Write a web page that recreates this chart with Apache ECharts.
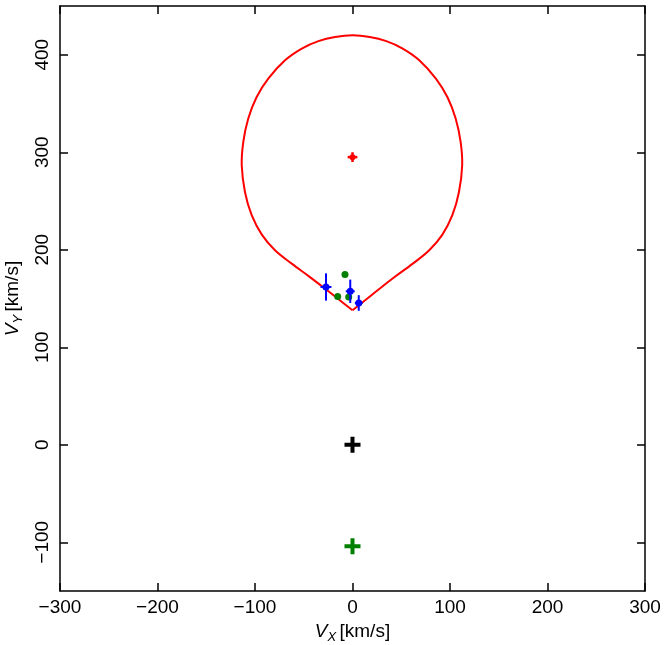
<!DOCTYPE html>
<html>
<head>
<meta charset="utf-8">
<script src="https://cdn.jsdelivr.net/npm/echarts@6/dist/echarts.min.js"></script>
<style>
html,body{margin:0;padding:0;background:#fff;}
#chart{width:665px;height:645px;}
</style>
</head>
<body>
<div id="chart"></div>
<script>
// ---- data ----
const xTicks = [-300, -200, -100, 0, 100, 200, 300];
const yTicks = [-100, 0, 100, 200, 300, 400];

// red boundary curve (Vx, Vy): from the bottom cusp, up the left side, over the top, down the right side
const curveX = [0, -14, -28, -45, -62, -79.5, -93, -103.4, -110.3, -113.6, -112, -106.9, -98.3, -86.4, -69.2, -52, -35, -17.9, 0,
                17.7, 34.7, 51.5, 68.5, 85.5, 97.3, 105.8, 110.9, 112.5, 109.2, 102.4, 92.2, 78.7, 61.5, 44.5, 27.7, 13.9, 0];
const curveY = [138, 149, 160, 173, 185.5, 199.5, 215.5, 235.4, 259.3, 286.7, 310.6, 334.6, 356.7, 375.6, 394.4, 406.4, 414, 418.3, 420,
                418.3, 414, 406.4, 394.4, 375.6, 356.7, 334.6, 310.6, 286.7, 259.3, 235.4, 215.5, 199.5, 185.5, 173, 160, 149, 138];

// red point with errors [Vx, Vy, errX, errY]
const redX = [0], redY = [295], redEx = [5], redEy = [5];
// blue points with errors
const blueX = [-27.2, -2.3, 6.4];
const blueY = [161.8, 157.4, 145.4];
const blueEx = [5.6, 4.6, 4];
const blueEy = [14, 12, 8];
// green dots
const greenX = [-7.7, -15.2, -3.9];
const greenY = [174.6, 152, 151.6];
// crosses
const blackCrossX = [0], blackCrossY = [0];
const greenCrossX = [0], greenCrossY = [-104];

// ---- build ----
const zip = (a, b) => a.map((v, i) => [v, b[i]]);
const zip4 = (a, b, c, d) => a.map((v, i) => [v, b[i], c[i], d[i]]);
const minus = v => String(v).replace('-', '\u2212');
const FONT = 'Liberation Sans';
const curveData = zip(curveX, curveY);

function errRender(color, lw, r) {
  return function (params, api) {
    const x = api.value(0), y = api.value(1), ex = api.value(2), ey = api.value(3);
    const c = api.coord([x, y]);
    const l = api.coord([x - ex, y]), rr = api.coord([x + ex, y]);
    const t = api.coord([x, y + ey]), b = api.coord([x, y - ey]);
    return {
      type: 'group',
      children: [
        {type: 'line', shape: {x1: l[0], y1: l[1], x2: rr[0], y2: rr[1]}, style: {stroke: color, lineWidth: lw}},
        {type: 'line', shape: {x1: t[0], y1: t[1], x2: b[0], y2: b[1]}, style: {stroke: color, lineWidth: lw}},
        {type: 'circle', shape: {cx: c[0], cy: c[1], r: r}, style: {fill: color}}
      ]
    };
  };
}

// smooth curve through all points, drawn once (on the first item) via the axes' coord()
function curveRender(params, api) {
  if (params.dataIndex !== 0) return null;
  const pts = curveData.map(p => api.coord(p));
  return {
    type: 'polyline',
    shape: {points: pts, smooth: 0.35},
    style: {stroke: '#ff0000', lineWidth: 2, fill: null, lineJoin: 'miter'}
  };
}

const plusPath = 'path://M6,0H10V6H16V10H10V16H6V10H0V6H6Z';

const axisLine = {show: true, onZero: false, lineStyle: {color: '#000', width: 1.5}};
const tick = (vals) => ({show: true, inside: true, length: 8, customValues: vals, lineStyle: {color: '#000', width: 1.5}});
const nameRich = {
  v: {fontStyle: 'italic', fontSize: 19, fontFamily: FONT, color: '#000', lineHeight: 24, verticalAlign: 'middle'},
  s: {fontStyle: 'italic', fontSize: 13, fontFamily: FONT, color: '#000', lineHeight: 12, verticalAlign: 'bottom'},
  u: {fontSize: 19, fontFamily: FONT, color: '#000', lineHeight: 24, verticalAlign: 'middle'}
};

const chart = echarts.init(document.getElementById('chart'), null, {renderer: 'canvas'});
chart.setOption({
  animation: false,
  backgroundColor: '#fff',
  grid: {left: 60, right: 20, top: 6, bottom: 54, containLabel: false, outerBoundsMode: 'none'},
  xAxis: [
    {
      type: 'value', min: -300, max: 300, interval: 100, position: 'bottom',
      axisLine: axisLine, axisTick: tick(xTicks), splitLine: {show: false},
      axisLabel: {customValues: xTicks, formatter: minus, fontSize: 19, fontFamily: FONT, color: '#000', margin: 7},
      name: '{v|V}{s|X} {u|[km/s]}', nameLocation: 'middle', nameGap: 29,
      nameTextStyle: {rich: nameRich}
    },
    {
      type: 'value', min: -300, max: 300, interval: 100, position: 'top',
      axisLine: axisLine, axisTick: tick(xTicks), splitLine: {show: false},
      axisLabel: {show: false}
    }
  ],
  yAxis: [
    {
      type: 'value', min: -150, max: 450, position: 'left',
      axisLine: axisLine, axisTick: tick(yTicks), splitLine: {show: false},
      axisLabel: {customValues: yTicks, formatter: minus, rotate: 90, fontSize: 19, fontFamily: FONT, color: '#000', margin: 8},
      name: '{v|V}{s|Y} {u|[km/s]}', nameLocation: 'middle', nameGap: 35, nameRotate: 90,
      nameTextStyle: {rich: nameRich}
    },
    {
      type: 'value', min: -150, max: 450, position: 'right',
      axisLine: axisLine, axisTick: tick(yTicks), splitLine: {show: false},
      axisLabel: {show: false}
    }
  ],
  series: [
    {
      type: 'custom', data: curveData, renderItem: curveRender, encode: {x: 0, y: 1}, z: 2
    },
    {
      type: 'custom', data: zip4(redX, redY, redEx, redEy), renderItem: errRender('#ff0000', 2.5, 3),
      encode: {x: 0, y: 1}, z: 3
    },
    {
      type: 'scatter', data: zip(greenX, greenY), symbol: 'circle', symbolSize: 7,
      itemStyle: {color: '#008000', opacity: 1}, z: 3
    },
    {
      type: 'custom', data: zip4(blueX, blueY, blueEx, blueEy), renderItem: errRender('#0000ff', 2, 3.5),
      encode: {x: 0, y: 1}, z: 4
    },
    {
      type: 'scatter', data: zip(blackCrossX, blackCrossY), symbol: plusPath, symbolSize: 16,
      itemStyle: {color: '#000', opacity: 1}, z: 4
    },
    {
      type: 'scatter', data: zip(greenCrossX, greenCrossY), symbol: plusPath, symbolSize: 16,
      itemStyle: {color: '#008000', opacity: 1}, z: 4
    }
  ]
});
</script>
</body>
</html>
